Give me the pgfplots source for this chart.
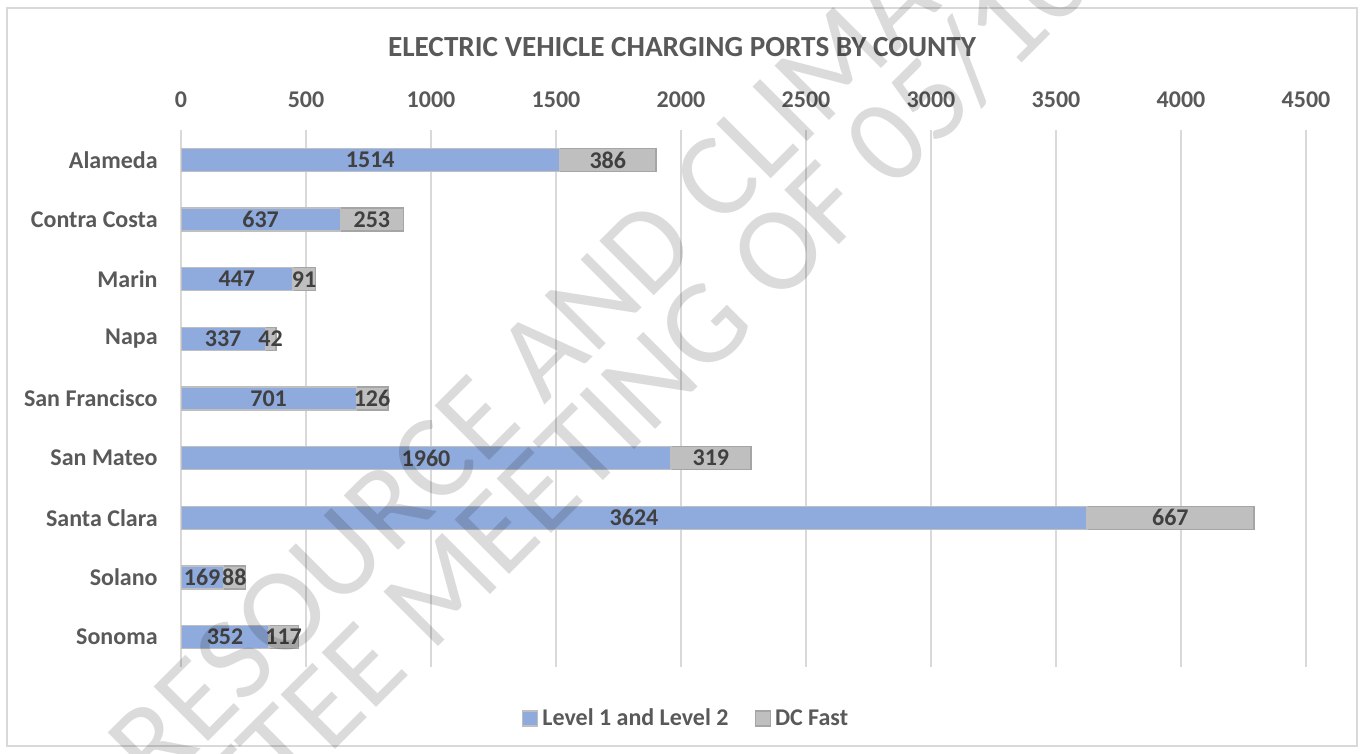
\documentclass[border=0pt]{standalone}
\usepackage{pgfplots}
\pgfplotsset{compat=1.18}
\usepackage{pgfplotstable}
\usepackage{fontspec}
\setmainfont{Carlito}
\definecolor{txt}{HTML}{595959}
\definecolor{lbl}{HTML}{404040}
\definecolor{gridc}{HTML}{D9D9D9}
\definecolor{blu}{HTML}{8FAADC}
\definecolor{blubord}{HTML}{BFBFBF}
\definecolor{gry}{HTML}{BFBFBF}
\definecolor{grybord}{HTML}{A5A5A5}
\pgfplotstableread{
idx L D
0 1514 386
1 637 253
2 447 91
3 337 42
4 701 126
5 1960 319
6 3624 667
7 169 88
8 352 117
}\data
\newcommand{\fs}{\fontsize{12bp}{14bp}\selectfont}
\begin{document}
\begin{tikzpicture}
\path[use as bounding box] (0,0) rectangle (682.5bp,-377bp);
\draw[gridc, line width=0.75bp] (3.5bp,-4bp) rectangle (678.5bp,-373bp);
\node[text=txt, font=\fontsize{14.6bp}{17bp}\selectfont\bfseries] at (341bp,-23.5bp) {ELECTRIC VEHICLE CHARGING PORTS BY COUNTY};
\begin{axis}[
  at={(90.5bp,-65bp)}, anchor=north west,
  scale only axis, width=562.5bp, height=268.5bp,
  xbar stacked, bar width=11.5bp,
  xmin=0, xmax=4500, ymin=-0.5, ymax=8.5, y dir=reverse,
  xtick={0,500,...,4500}, ytick={0,...,8},
  yticklabels={Alameda, Contra Costa, Marin, Napa, San Francisco, San Mateo, Santa Clara, Solano, Sonoma},
  xticklabel pos=right,
  xmajorgrids, major grid style={gridc, line width=0.75bp},
  axis line style={draw=none}, tick style={draw=none},
  /pgf/number format/assume math mode=true,
  /pgf/number format/1000 sep={},
  ticklabel style={font=\fs\bfseries, text=txt, inner sep=0pt},
  xticklabel style={yshift=11bp},
  yticklabel style={xshift=-11.5bp},
  legend columns=2,
  legend style={at={(axis description cs:0.4498,-0.0968)}, anchor=center, draw=none, fill=none, font=\fs\bfseries, text=txt, /tikz/every even column/.append style={column sep=11bp}},
  legend image code/.code={\draw[#1, line width=0.75bp] (0bp,-3.5bp) rectangle (7.5bp,4bp);},
]
\addplot[fill=blu, draw=blubord, line width=0.75bp] table[x=L, y=idx] {\data};
\addplot[fill=gry, draw=grybord, line width=0.75bp] table[x=D, y=idx] {\data};
\legend{Level 1 and Level 2, DC Fast}
\end{axis}
\begin{axis}[
  at={(90.5bp,-65bp)}, anchor=north west,
  scale only axis, width=562.5bp, height=268.5bp,
  xmin=0, xmax=4500, ymin=-0.5, ymax=8.5, y dir=reverse,
  hide axis,
  nodes near coords, point meta=explicit symbolic,
  every node near coord/.append style={anchor=center, font=\fs\bfseries, text=lbl, inner sep=0pt},
]
\addplot[draw=none] table[x expr=\thisrow{L}/2, y=idx, meta=L] {\data};
\addplot[draw=none] table[x expr=\thisrow{L}+\thisrow{D}/2, y=idx, meta=D] {\data};
\end{axis}
\begin{scope}
\clip (0,0) rectangle (682.5bp,-377bp);
\tikzset{wm/.style={inner sep=0pt, rotate=45, text=black, text opacity=0.14, font=\fontsize{60bp}{66bp}\selectfont}}
\node[wm] (and) at (297.5bp,-150bp) {AND};
\node[wm, anchor=base east] at (and.base west) {RESOURCE\hspace*{0.226em}};
\node[wm, anchor=base west] at (and.base east) {\hspace*{0.226em}CLIMATE};
\node[wm] (of) at (399bp,-116bp) {OF};
\node[wm, anchor=base east] at (of.base west) {COMMITTEE MEETING\hspace*{0.226em}};
\node[wm, anchor=base west] at (of.base east) {\hspace*{0.226em}05/10/2022};
\end{scope}
\end{tikzpicture}
\end{document}
